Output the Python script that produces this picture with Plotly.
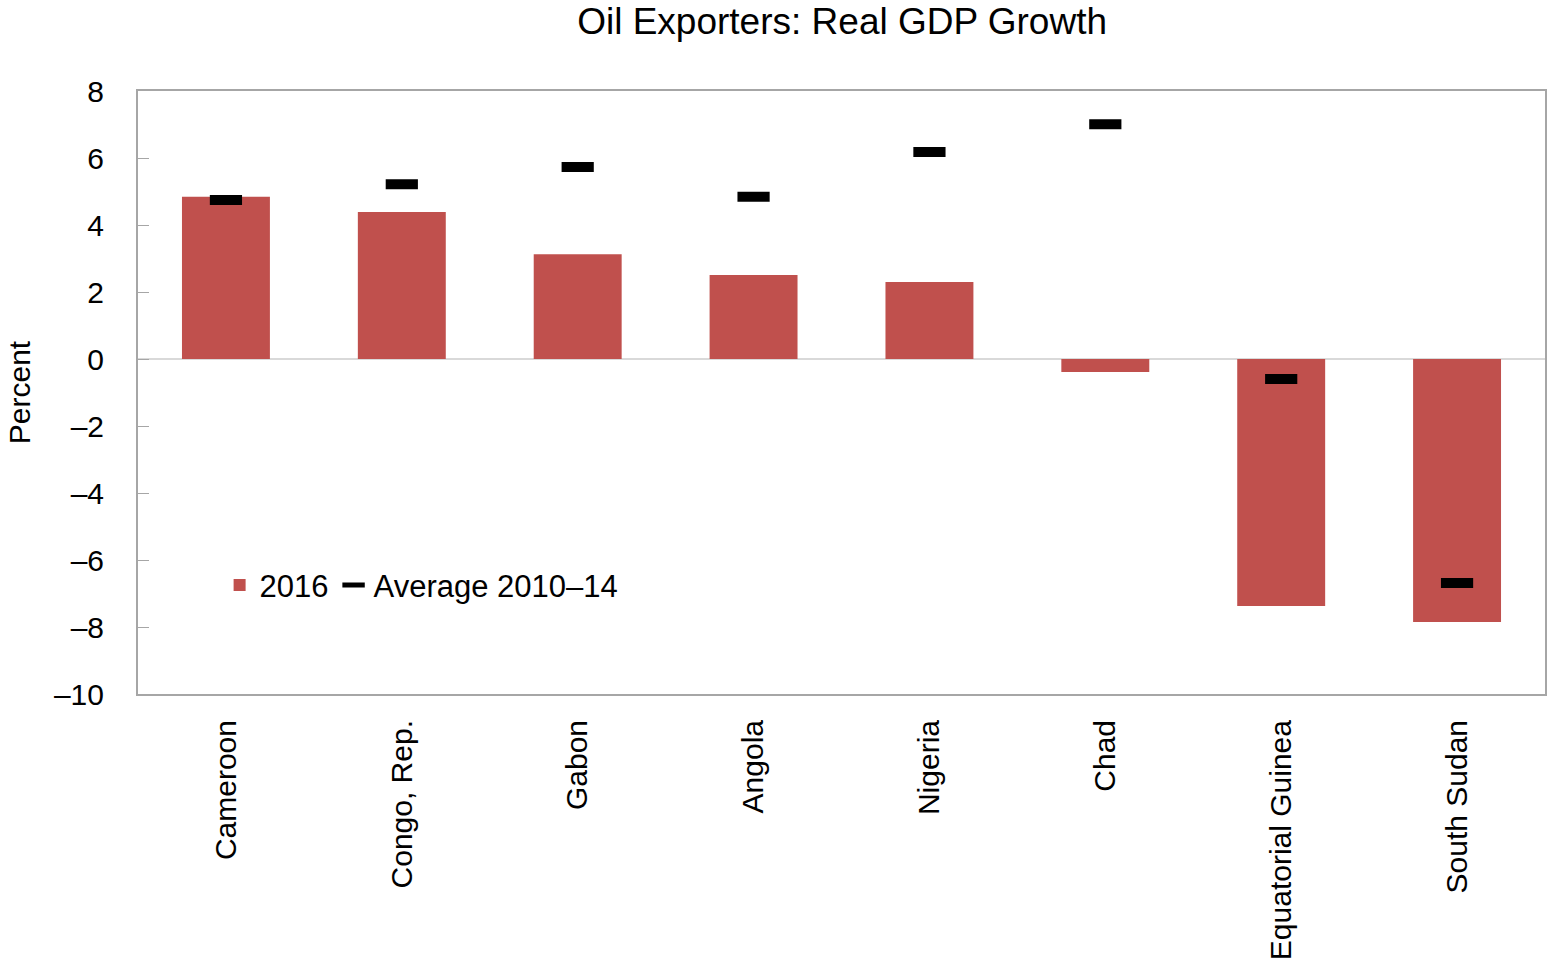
import plotly.graph_objects as go

countries = ["Cameroon", "Congo, Rep.", "Gabon", "Angola", "Nigeria", "Chad",
             "Equatorial Guinea", "South Sudan"]
growth_2016 = [4.84, 4.39, 3.13, 2.51, 2.30, -0.39, -7.37, -7.85]
avg_2010_14 = [4.75, 5.22, 5.73, 4.84, 6.18, 7.01, -0.60, -6.69]

y_ticks = [8, 6, 4, 2, 0, -2, -4, -6, -8, -10]
y_tick_text = [str(v).replace("-", "\u2013") for v in y_ticks]

FONT = "Liberation Sans Narrow, Arial Narrow, Liberation Sans, sans-serif"
BAR_RED = "#c0504d"
FRAME = "#a6a6a6"

fig = go.Figure()
fig.add_trace(go.Bar(
    x=countries, y=growth_2016, name="2016",
    marker=dict(color=BAR_RED, line=dict(width=0)),
))
fig.add_trace(go.Scatter(
    x=countries, y=avg_2010_14, name="Average 2010\u201314", mode="markers",
    marker=dict(symbol="line-ew", size=23, color="black",
                line=dict(color="black", width=10)),
))

fig.update_layout(
    width=1548, height=965,
    margin=dict(l=138, r=1, t=91, b=271),
    paper_bgcolor="white", plot_bgcolor="white",
    font=dict(family=FONT, size=30, color="black"),
    title=dict(text="Oil Exporters: Real GDP Growth", x=0.544, xanchor="center",
               y=0.978, yanchor="middle", font=dict(size=37, family=FONT)),
    bargap=0.5,
    showlegend=True,
    legend=dict(orientation="h", x=0.058, xanchor="left", y=0.18, yanchor="middle",
                bgcolor="rgba(0,0,0,0)", font=dict(size=31, family=FONT),
                itemwidth=30, tracegroupgap=0),
)
fig.update_xaxes(
    showline=True, mirror=True, linecolor=FRAME, linewidth=2,
    showgrid=False, ticks="", tickangle=-90, ticklabelstandoff=12,
    tickfont=dict(size=30, family=FONT),
)
fig.update_yaxes(
    range=[-10, 8], tickvals=y_ticks, ticktext=y_tick_text,
    showline=True, mirror=True, linecolor=FRAME, linewidth=2,
    showgrid=False, ticks="inside", ticklen=11, tickcolor=FRAME, tickwidth=1,
    zeroline=True, zerolinecolor="#d9d9d9", zerolinewidth=2,
    title=dict(text="Percent", standoff=14, font=dict(size=30, family=FONT)),
    tickfont=dict(size=30, family=FONT), ticklabelstandoff=26,
)

fig.write_html("out.html")
